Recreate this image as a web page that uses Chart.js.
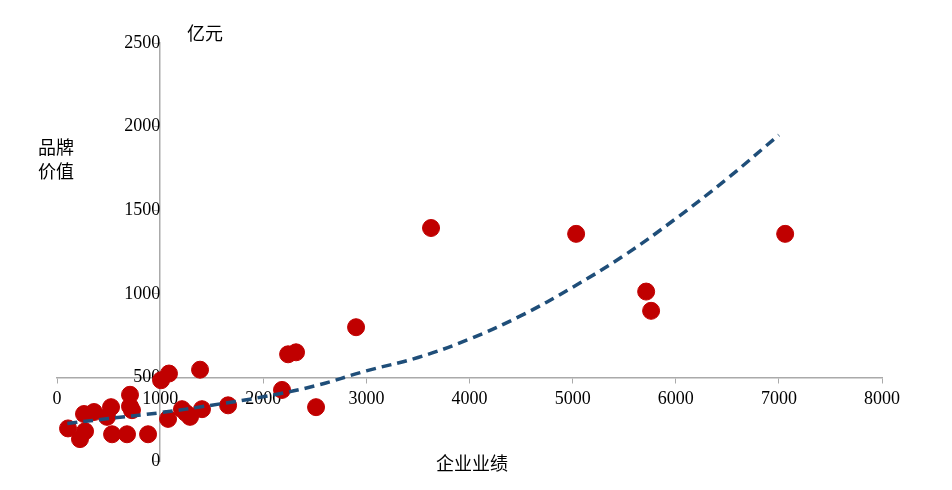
<!DOCTYPE html>
<html><head><meta charset="utf-8">
<script src="https://cdn.jsdelivr.net/npm/chart.js@4"></script>
<style>html,body{margin:0;background:#fff}#w{width:952px;height:490px}</style>
</head><body><div id="w"><canvas id="c"></canvas></div>
<script>
const perfX = [107,223,272,262,359,485,524,534,708,708,727,679,883,1009,1086,1077,1212,1290,1250,1406,1387,1659,2182,2241,2318,2512,2900,3627,5034,5713,5761,7061];
const brandY = [196,132,179,282,294,265,323,161,397,328,305,161,161,484,524,253,311,265,288,311,547,334,426,639,651,323,801,1394,1359,1014,899,1359];
const trendX = [100,500,1000,1500,2000,2500,3000,3500,4000,4500,5000,5500,6000,6500,7000];
const trendY = [225,255,290,335,385,450,540,620,730,870,1040,1230,1450,1690,1950];
const xTicks = [0,1000,2000,3000,4000,5000,6000,7000,8000];
const yTicks = [0,500,1000,1500,2000,2500];
const FONT = "'Liberation Serif', serif";
const labels = {
  id:'lbl',
  afterDraw(ch){
    const c=ch.ctx; c.save(); c.fillStyle='#000'; c.font="18px 'Noto Sans CJK SC'";
    c.textBaseline='middle'; c.textAlign='left';
    c.fillText('亿元',187,33);
    c.fillText('品牌',38,147); c.fillText('价值',38,171);
    c.fillText('企业业绩',436,463);
    c.restore();
  }
};
new Chart(document.getElementById('c'),{
  type:'scatter',
  data:{datasets:[
    {data:perfX.map((x,i)=>({x,y:brandY[i]})),backgroundColor:'#c00000',borderColor:'#c00000',pointRadius:8.5,pointHoverRadius:8.5,order:2},
    {type:'line',data:trendX.map((x,i)=>({x,y:trendY[i]})),borderColor:'#1f4e79',borderWidth:3.5,borderDash:[10,6],pointRadius:0,tension:0.4,fill:false,order:1}
  ]},
  options:{
    responsive:true,maintainAspectRatio:false,animation:false,
    layout:{padding:{left:57,right:70,top:43,bottom:13}},
    plugins:{legend:{display:false},tooltip:{enabled:false}},
    scales:{
      x:{type:'linear',min:0,max:8000,position:{y:500},
        afterBuildTicks:a=>{a.ticks=xTicks.map(v=>({value:v}));},
        ticks:{color:'#000',font:{family:FONT,size:18},padding:6,maxRotation:0,callback:v=>String(v)},
        grid:{drawOnChartArea:false,color:'#aaa',tickLength:5},border:{color:'#aaa',width:1.5}},
      y:{type:'linear',min:0,max:2500,position:{x:1000},
        afterBuildTicks:a=>{a.ticks=yTicks.map(v=>({value:v}));},
        ticks:{color:'#000',font:{family:FONT,size:18},padding:18,callback:v=>String(v)},
        grid:{drawOnChartArea:false,color:'#aaa',tickLength:5},border:{color:'#aaa',width:1.5}}
    }
  },
  plugins:[labels]
});
</script></body></html>
